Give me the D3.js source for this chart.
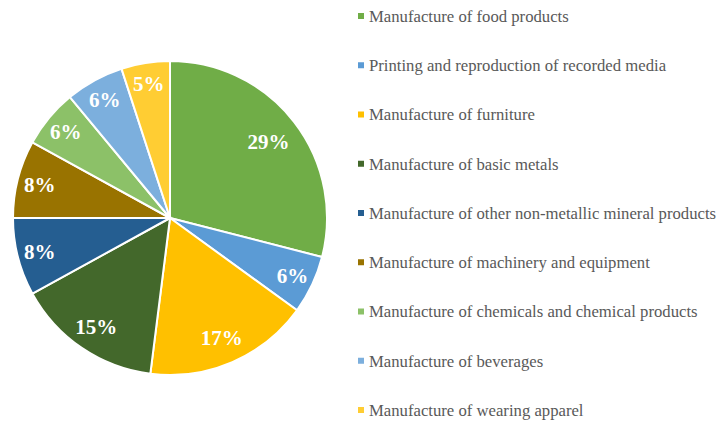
<!DOCTYPE html>
<html>
<head>
<meta charset="utf-8">
<script src="https://cdn.jsdelivr.net/npm/d3@7"></script>
<style>
  body { margin: 0; background: #fff; }
  svg { display: block; }
</style>
</head>
<body>
<svg id="chart"></svg>
<script>
// sectors, clockwise from 12 o'clock
var categories = [
  "Manufacture of food products",
  "Printing and reproduction of recorded media",
  "Manufacture of furniture",
  "Manufacture of basic metals",
  "Manufacture of other non-metallic mineral products",
  "Manufacture of machinery and equipment",
  "Manufacture of chemicals and chemical products",
  "Manufacture of beverages",
  "Manufacture of wearing apparel"
];
var shares = [29, 6, 17, 15, 8, 8, 6, 6, 5];
var colors = ["#70AD47", "#5B9BD5", "#FFC000", "#43682B", "#255E91", "#997300", "#8CC168", "#7CAFDD", "#FFCD33"];

var width = 717, height = 423;
var cx = 170, cy = 218, radius = 157;

var svg = d3.select("#chart")
  .attr("width", width)
  .attr("height", height);

var data = categories.map(function(c, i) { return {name: c, value: shares[i], color: colors[i]}; });

var pie = d3.pie()
  .sort(null)
  .value(function(d) { return d.value; });

var arc = d3.arc().innerRadius(0).outerRadius(radius);

// small slices get their label pushed a bit further out (like excel's best fit)
function labelPos(d) {
  var r = radius * (0.88 - d.data.value * 0.003);
  return d3.arc().innerRadius(r).outerRadius(r).centroid(d);
}

var g = svg.append("g")
  .attr("transform", "translate(" + cx + "," + cy + ")");

var slices = g.selectAll(".slice")
  .data(pie(data))
  .enter()
  .append("g")
  .attr("class", "slice");

slices.append("path")
  .attr("d", arc)
  .style("fill", function(d) { return d.data.color; })
  .style("stroke", "#fff")
  .style("stroke-width", 2);

slices.append("text")
  .attr("transform", function(d) { return "translate(" + labelPos(d) + ")"; })
  .attr("text-anchor", "middle")
  .attr("dy", "0.35em")
  .style("font-family", "'Liberation Serif', 'Times New Roman', serif")
  .style("font-weight", "bold")
  .style("font-size", "21px")
  .style("fill", "#fff")
  .text(function(d) { return d.data.value + "%"; });

// legend
var legendY = d3.scalePoint()
  .domain(categories)
  .range([16, 410]);

var legend = svg.append("g").attr("class", "legend");

var items = legend.selectAll(".item")
  .data(data)
  .enter()
  .append("g")
  .attr("class", "item")
  .attr("transform", function(d) { return "translate(358," + legendY(d.name) + ")"; });

items.append("rect")
  .attr("x", 0)
  .attr("y", -3)
  .attr("width", 6)
  .attr("height", 6)
  .style("fill", function(d) { return d.color; });

items.append("text")
  .attr("x", 11)
  .attr("dy", "0.35em")
  .style("font-family", "'Liberation Serif', 'Times New Roman', serif")
  .style("font-size", "16.7px")
  .style("fill", "#595959")
  .text(function(d) { return d.name; });
</script>
</body>
</html>
